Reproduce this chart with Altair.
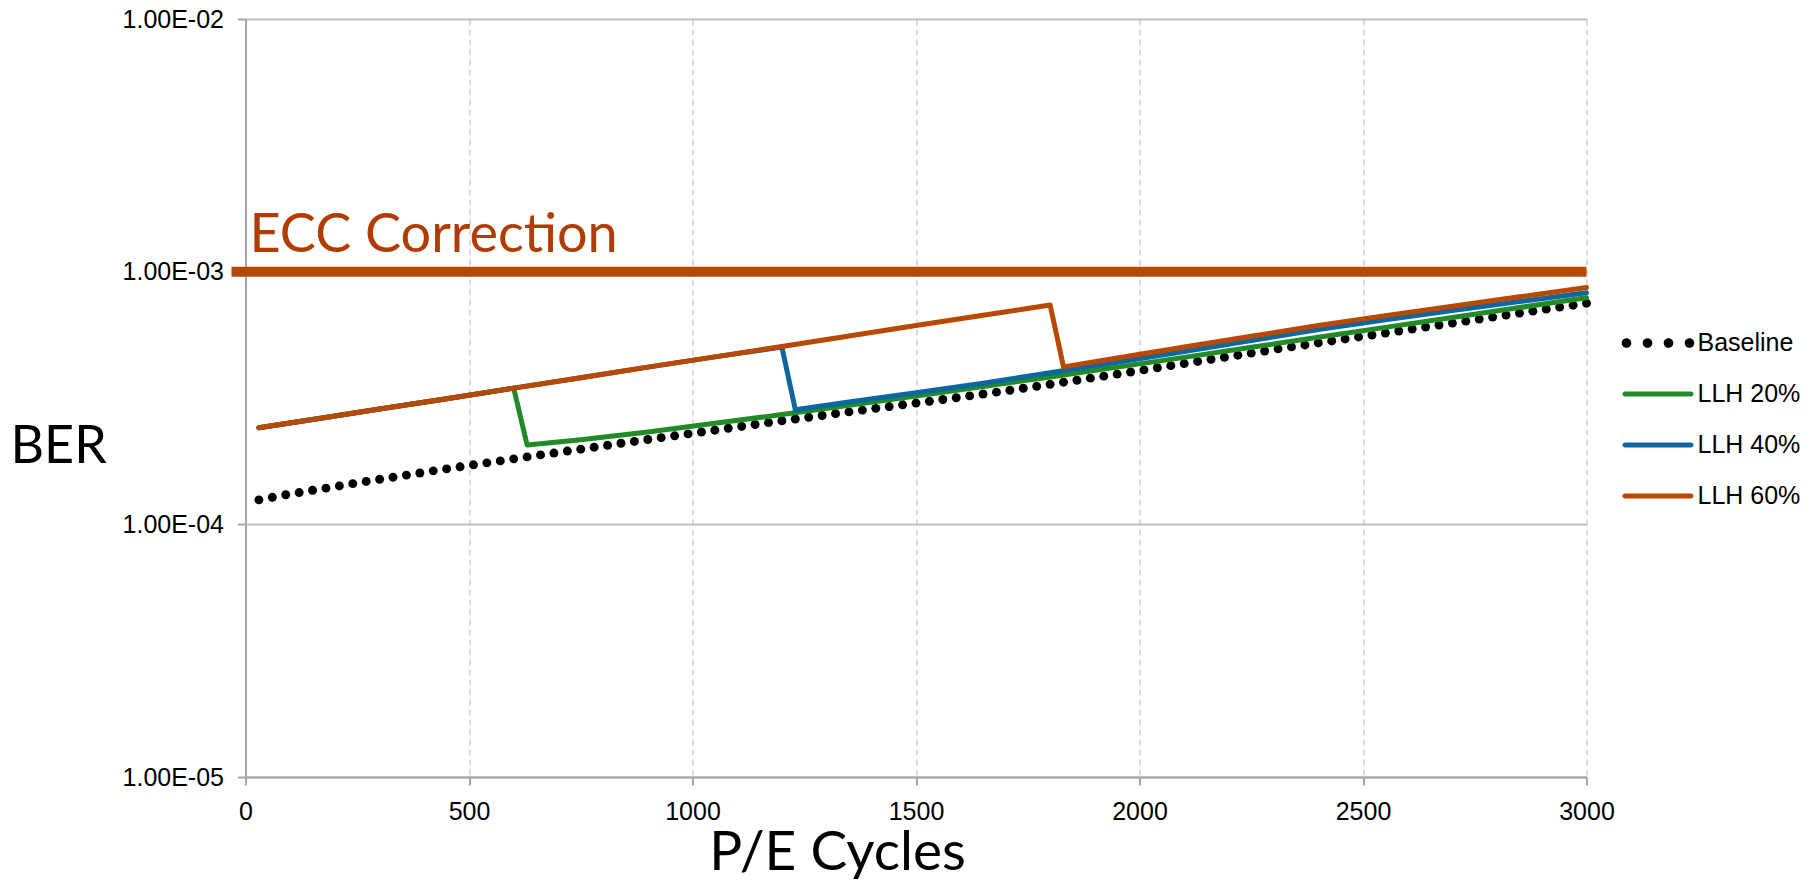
import altair as alt
import pandas as pd

# ---------------- data (BER values in units of 1e-4) ----------------
series_names = ["Baseline", "LLH 20%", "LLH 40%", "LLH 60%"]
series_colors = ["#000000", "#208B27", "#0C67A0", "#B94800"]

baseline_cycles = list(range(30, 3001, 30))
baseline_ber = [
    1.250, 1.279, 1.309, 1.336, 1.364, 1.391, 1.419, 1.449, 1.478, 1.508,
    1.537, 1.566, 1.596, 1.628, 1.658, 1.689, 1.720, 1.751, 1.783, 1.816,
    1.849, 1.883, 1.915, 1.950, 1.984, 2.020, 2.055, 2.093, 2.129, 2.166,
    2.203, 2.241, 2.280, 2.319, 2.359, 2.400, 2.441, 2.484, 2.527, 2.570,
    2.612, 2.654, 2.697, 2.741, 2.786, 2.831, 2.877, 2.924, 2.971, 3.020,
    3.068, 3.119, 3.169, 3.224, 3.279, 3.336, 3.393, 3.455, 3.518, 3.582,
    3.652, 3.718, 3.790, 3.859, 3.934, 4.009, 4.087, 4.166, 4.247, 4.328,
    4.412, 4.497, 4.584, 4.672, 4.762, 4.854, 4.948, 5.038, 5.130, 5.224,
    5.319, 5.417, 5.516, 5.616, 5.719, 5.824, 5.930, 6.038, 6.149, 6.261,
    6.375, 6.492, 6.610, 6.731, 6.854, 6.979, 7.107, 7.237, 7.369, 7.504,
]

llh20_cycles = [30, 150, 300, 450, 600, 630, 750, 900, 1050, 1200, 1350, 1500,
                1650, 1800, 1950, 2100, 2250, 2400, 2550, 2700, 2850, 3000]
llh20_ber = [2.41, 2.60, 2.86, 3.14, 3.46, 2.06, 2.16, 2.32, 2.51, 2.72, 2.96, 3.22,
             3.51, 3.83, 4.19, 4.58, 5.02, 5.50, 6.02, 6.59, 7.21, 7.88]

llh40_cycles = [30, 150, 300, 450, 600, 750, 900, 1050, 1200, 1230, 1350, 1500,
                1650, 1800, 1950, 2100, 2250, 2400, 2550, 2700, 2850, 3000]
llh40_ber = [2.41, 2.60, 2.86, 3.14, 3.46, 3.80, 4.19, 4.60, 5.03, 2.84, 3.05, 3.32,
             3.62, 3.98, 4.38, 4.83, 5.34, 5.90, 6.45, 7.02, 7.62, 8.25]

llh60_cycles = [30, 150, 300, 450, 600, 750, 900, 1050, 1200, 1350, 1500, 1650,
                1800, 1830, 1950, 2100, 2250, 2400, 2550, 2700, 2850, 3000]
llh60_ber = [2.41, 2.60, 2.86, 3.14, 3.46, 3.80, 4.19, 4.60, 5.06, 5.56, 6.12, 6.72,
             7.38, 4.20, 4.55, 5.03, 5.55, 6.12, 6.70, 7.30, 7.95, 8.65]

ecc_limit = [1e-3]
ecc_label = ["ECC Correction"]

x_ticks = [0, 500, 1000, 1500, 2000, 2500, 3000]
y_ticks = [1e-5, 1e-4, 1e-3, 1e-2]
y_tick_labels = ["1.00E-05", "1.00E-04", "1.00E-03", "1.00E-02"]

# ---------------- tables ----------------
def frame(cyc, ber):
    return pd.DataFrame({"cycles": cyc, "ber": [b * 1e-4 for b in ber]})

base_df = frame(baseline_cycles, baseline_ber)
l20_df = frame(llh20_cycles, llh20_ber)
l40_df = frame(llh40_cycles, llh40_ber)
l60_df = frame(llh60_cycles, llh60_ber)
ecc_df = pd.DataFrame({"ber": ecc_limit, "label": ecc_label})
legend_df = pd.DataFrame({"series": series_names})

W, H = 1341, 758
AXIS_GREY = "#A6A6A6"
LABEL_FONT = "Liberation Sans"
TITLE_FONT = "Lato"

label_expr = "[" + ",".join("'%s'" % s for s in y_tick_labels) + "][round(log(datum.value)/LN10)+5]"

X = alt.X(
    "cycles:Q",
    scale=alt.Scale(domain=[0, 3000], nice=False, zero=False),
    axis=alt.Axis(
        values=x_ticks, title="P/E Cycles", format="d",
        grid=True, gridDash=[6, 4], gridColor="#CFCFCF", gridWidth=1.5,
        domainColor=AXIS_GREY, domainWidth=2,
        tickColor=AXIS_GREY, tickWidth=2, tickSize=8,
        labelFont=LABEL_FONT, labelFontSize=25, labelColor="black",
        labelPadding=14, labelFlush=False, labelOverlap=False,
        titleFont=TITLE_FONT, titleFontSize=55, titleFontWeight="normal",
        titleColor="black", titleX=591.5, titleY=92, titleAlign="center",
        titleBaseline="alphabetic",
    ),
)
Y = alt.Y(
    "ber:Q",
    scale=alt.Scale(type="log", domain=[1e-5, 1e-2], nice=False),
    axis=alt.Axis(
        values=y_ticks, labelExpr=label_expr, title="BER",
        grid=True, gridColor="#BFBFBF", gridWidth=2,
        domainColor=AXIS_GREY, domainWidth=2,
        tickColor=AXIS_GREY, tickWidth=2, tickSize=8,
        labelFont=LABEL_FONT, labelFontSize=25, labelColor="black",
        labelPadding=14, labelFlush=False, labelOverlap=False,
        titleFont=TITLE_FONT, titleFontSize=52, titleFontWeight="normal",
        titleColor="black", titleAngle=0, titleX=-235.5, titleY=443,
        titleAlign="left", titleBaseline="alphabetic",
    ),
)

dots = alt.Chart(base_df).mark_circle(size=80, color="#000000", opacity=1).encode(x=X, y=Y)

def line(df, color):
    return alt.Chart(df).mark_line(color=color, strokeWidth=5, strokeJoin="round",
                                   strokeCap="round").encode(x=X, y=Y)

l20 = line(l20_df, series_colors[1])
l40 = line(l40_df, series_colors[2])
l60 = line(l60_df, series_colors[3])

ecc_rule = alt.Chart(ecc_df).mark_rule(color="#B84700", strokeWidth=10).encode(
    y=alt.Y("ber:Q"), x=alt.value(-14), x2=alt.value(W)
)
ecc_text = alt.Chart(ecc_df).mark_text(
    align="left", baseline="alphabetic", dy=-20, font=TITLE_FONT, fontSize=54,
    color="#B03C00",
).encode(y=alt.Y("ber:Q"), x=alt.value(4), text="label:N")

# legend symbols (custom paths, unit = sqrt(size)/2 px)
def circle(cx, a):
    return "M%.3f,0A%.3f,%.3f 0 1,0 %.3f,0A%.3f,%.3f 0 1,0 %.3f,0Z" % (cx - a, a, a, cx + a, a, a, cx - a)

dots_path = "".join(circle(cx, 0.48) for cx in [-3.15, -1.05, 1.05, 3.15])
line_path = "M-3.3,-0.25L3.3,-0.25A0.25,0.25 0 0,1 3.3,0.25L-3.3,0.25A0.25,0.25 0 0,1 -3.3,-0.25Z"
series_shapes = [dots_path, line_path, line_path, line_path]

leg = alt.Legend(
    title=None, orient="none", legendX=1400, legendY=311.5,
    symbolSize=400, symbolStrokeWidth=0, symbolOpacity=1,
    labelFont=LABEL_FONT, labelFontSize=25, labelColor="black",
    labelOffset=27, rowPadding=25, padding=0, labelLimit=400,
)
legend_layer = alt.Chart(legend_df).mark_point(filled=True, opacity=0).encode(
    x=alt.value(0), y=alt.value(0),
    color=alt.Color("series:N", scale=alt.Scale(domain=series_names, range=series_colors), legend=leg),
    shape=alt.Shape("series:N", scale=alt.Scale(domain=series_names, range=series_shapes), legend=leg),
)

chart = alt.layer(dots, l20, l40, l60, ecc_rule, ecc_text, legend_layer).properties(
    width=W, height=H,
    autosize=alt.AutoSizeParams(type="none"),
    padding={"left": 237.5, "top": 11, "right": 219.5, "bottom": 102},
    background="white",
).configure_view(stroke=None)

chart.save("out.html", embed_options={"renderer": "svg", "actions": False})
